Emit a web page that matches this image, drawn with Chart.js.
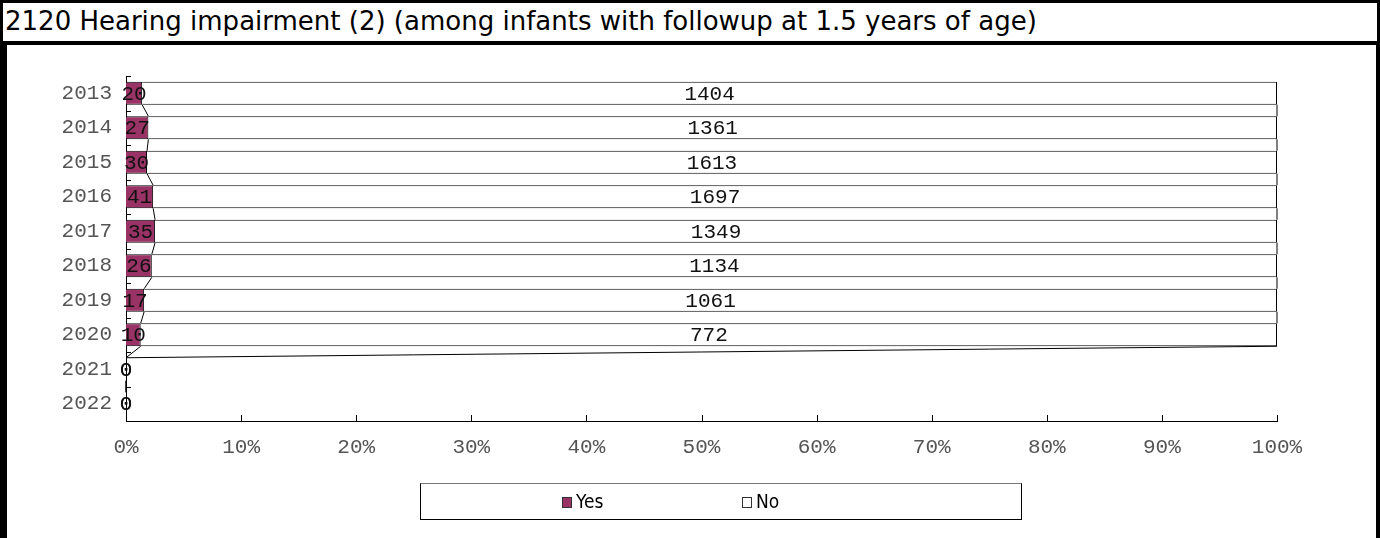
<!DOCTYPE html>
<html>
<head>
<meta charset="utf-8">
<script src="https://cdn.jsdelivr.net/npm/chart.js@4"></script>
<style>
  body { margin: 0; background: #fff; }
  #wrap { position: relative; width: 1380px; height: 538px; overflow: hidden; }
  #chart { position: absolute; left: 0; top: 0; }
  #title {
    position: absolute; left: 0; top: 0; width: 1380px; height: 45px;
    box-sizing: border-box; border: 3px solid #000; border-bottom-width: 4px;
    font: 26px "DejaVu Sans", sans-serif; line-height: 36px; padding-left: 2px;
    background: #fff; white-space: nowrap;
  }
  #frame {
    position: absolute; left: 0; top: 45px; width: 1380px; height: 493px;
    box-sizing: border-box; border-left: 7px solid #000; border-right: 4px solid #000;
    pointer-events: none;
  }
  #legend {
    position: absolute; left: 420px; top: 483px; width: 602px; height: 37px;
    box-sizing: border-box; border: 1px solid #000; border-top-color: #777;
    font: 19px "DejaVu Sans Condensed", "DejaVu Sans", sans-serif; font-stretch: condensed;
  }
  #legend span.item { position: absolute; top: 6px; }
  #legend i { display: inline-block; width: 8px; height: 9px; border: 1px solid #333; margin-right: 4px; vertical-align: 0px; }
</style>
</head>
<body>
<div id="wrap">
  <canvas id="chart" width="1380" height="538"></canvas>
  <div id="title">2120 Hearing impairment (2) (among infants with followup at 1.5 years of age)</div>
  <div id="frame"></div>
  <div id="legend"></div>
</div>
<script>
const years = ['2013', '2014', '2015', '2016', '2017', '2018', '2019', '2020', '2021', '2022'];
const yesCounts = [20, 27, 30, 41, 35, 26, 17, 10, 0, 0];
const noCounts = [1404, 1361, 1613, 1697, 1349, 1134, 1061, 772, 0, 0];
const seriesNames = ['Yes', 'No'];
const seriesColors = ['#993366', '#FFFFFF'];

const totals = years.map((y, i) => yesCounts[i] + noCounts[i]);
const pct = (arr) => arr.map((v, i) => totals[i] ? v / totals[i] * 100 : 0);

const monoFont = { family: '"Liberation Mono", monospace', size: 21 };

// Excel-style series lines between stacked bars
const seriesLines = {
  id: 'seriesLines',
  afterDatasetsDraw(chart) {
    const ctx = chart.ctx;
    ctx.save();
    ctx.strokeStyle = '#000';
    ctx.lineWidth = 1;
    chart.data.datasets.forEach((ds, d) => {
      const els = chart.getDatasetMeta(d).data;
      for (let i = 0; i < els.length - 1; i++) {
        const a = els[i], b = els[i + 1];
        ctx.beginPath();
        ctx.moveTo(a.x, a.y + a.height / 2);
        ctx.lineTo(b.x, b.y - b.height / 2);
        ctx.stroke();
      }
    });
    ctx.restore();
  }
};

const valueLabels = {
  id: 'valueLabels',
  afterDatasetsDraw(chart) {
    const ctx = chart.ctx;
    ctx.save();
    ctx.font = '21px "Liberation Mono", monospace';
    ctx.fillStyle = '#111';
    ctx.textAlign = 'center';
    ctx.textBaseline = 'middle';
    chart.data.datasets.forEach((ds, d) => {
      chart.getDatasetMeta(d).data.forEach((el, i) => {
        ctx.fillText(String(ds.counts[i]), (el.x + el.base) / 2, el.y + 1);
      });
    });
    ctx.restore();
  }
};

// small inward tick marks on both axes
const axisMarks = {
  id: 'axisMarks',
  afterDraw(chart) {
    const ctx = chart.ctx;
    const { top, bottom, left } = chart.chartArea;
    const x = chart.scales.x;
    ctx.save();
    ctx.strokeStyle = '#000';
    ctx.lineWidth = 1;
    const band = (bottom - top) / years.length;
    for (let i = 0; i < years.length; i++) {
      const y = Math.round(top + i * band) + 0.5;
      ctx.beginPath(); ctx.moveTo(left, y); ctx.lineTo(left + 5, y); ctx.stroke();
    }
    for (let v = 10; v <= 100; v += 10) {
      const px = Math.round(x.getPixelForValue(v)) + 0.5;
      ctx.beginPath(); ctx.moveTo(px, bottom); ctx.lineTo(px, bottom - 6); ctx.stroke();
    }
    ctx.restore();
  }
};

new Chart(document.getElementById('chart'), {
  type: 'bar',
  data: {
    labels: years,
    datasets: [
      { label: seriesNames[0], data: pct(yesCounts), counts: yesCounts, backgroundColor: seriesColors[0], borderColor: '#000', borderWidth: 1 },
      { label: seriesNames[1], data: pct(noCounts), counts: noCounts, backgroundColor: seriesColors[1], borderColor: '#000', borderWidth: 1 }
    ]
  },
  options: {
    indexAxis: 'y',
    responsive: false,
    animation: false,
    barPercentage: 0.667,
    categoryPercentage: 1,
    layout: { padding: { top: 76, right: 103, left: 0, bottom: 0 } },
    plugins: {
      legend: { display: false },
      tooltip: { enabled: false },
      title: { display: false }
    },
    scales: {
      x: {
        stacked: true,
        min: 0,
        max: 100,
        ticks: { stepSize: 10, callback: (v) => v + '%', color: '#555', font: monoFont, padding: 14, maxRotation: 0 },
        grid: { display: false, drawTicks: false },
        border: { display: true, color: '#000', width: 1 },
        afterFit: (s) => { s.height = 117; }
      },
      y: {
        stacked: true,
        ticks: { color: '#555', font: monoFont, padding: 14 },
        grid: { display: false, drawTicks: false },
        border: { display: true, color: '#000', width: 1 },
        afterFit: (s) => { s.width = 126; }
      }
    }
  },
  plugins: [seriesLines, valueLabels, axisMarks]
});

// legend box
const legend = document.getElementById('legend');
const legendX = [141, 321];
seriesNames.forEach((name, i) => {
  const item = document.createElement('span');
  item.className = 'item';
  item.style.left = legendX[i] + 'px';
  item.innerHTML = '<i style="background:' + seriesColors[i] + '"></i>' + name;
  legend.appendChild(item);
});
</script>
</body>
</html>
